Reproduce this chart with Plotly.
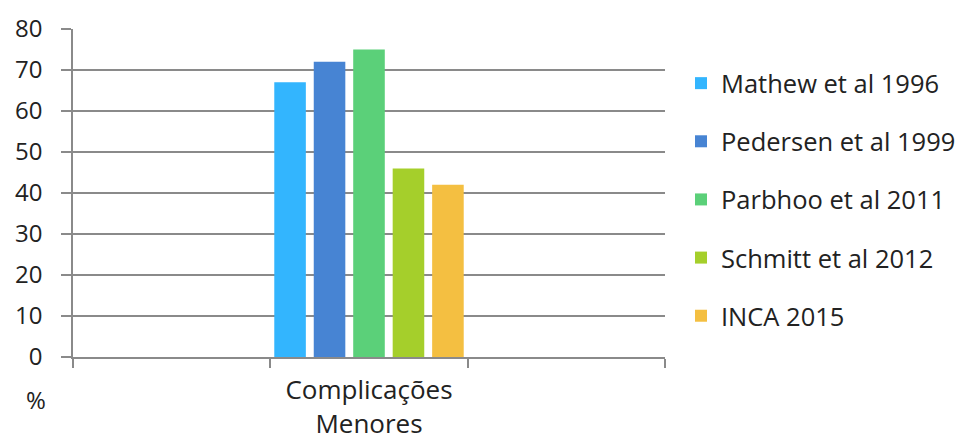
import plotly.graph_objects as go

# Category slots on the x axis (only the middle one holds data)
categories = [" ", "Complicações<br>Menores", "  "]
series_names = [
    "Mathew et al 1996",
    "Pedersen et al 1999",
    "Parbhoo et al 2011",
    "Schmitt et al 2012",
    "INCA 2015",
]
series_values = [67, 72, 75, 46, 42]
series_colors = ["#33b5fe", "#4784d3", "#5bd079", "#a5cf2b", "#f4bf41"]
y_ticks = [0, 10, 20, 30, 40, 50, 60, 70, 80]

FONT = "Open Sans"
GRID = "#8a8a8a"
TXT = "#222222"

fig = go.Figure()
for i, (name, val, col) in enumerate(zip(series_names, series_values, series_colors)):
    fig.add_trace(go.Bar(
        x=[categories[1]],
        y=[val],
        name=name,
        marker=dict(color=col, line=dict(width=0)),
        legendgroup=f"g{i}",
        hoverinfo="name+y",
    ))

fig.update_layout(
    width=974,
    height=443,
    margin=dict(l=73, r=309, t=29, b=86, autoexpand=False),
    paper_bgcolor="white",
    plot_bgcolor="white",
    barmode="group",
    bargap=0.0,
    bargroupgap=0.2,
    font=dict(family=FONT, size=22, color=TXT),
    showlegend=True,
    legend=dict(
        x=1.027, xanchor="left",
        y=0.48, yanchor="middle",
        font=dict(family=FONT, size=25.5, color=TXT),
        tracegroupgap=22,
        itemwidth=30,
        bgcolor="rgba(0,0,0,0)",
    ),
    xaxis=dict(
        type="category",
        categoryorder="array",
        categoryarray=categories,
        range=[-0.5, 2.5],
        tickson="boundaries",
        ticks="outside",
        ticklen=9,
        tickcolor=GRID,
        tickwidth=1.5,
        ticklabelstandoff=9,
        showgrid=False,
        showline=True,
        linecolor=GRID,
        linewidth=1.5,
        automargin=False,
        tickfont=dict(family=FONT, size=26, color=TXT),
        fixedrange=True,
    ),
    yaxis=dict(
        range=[0, 80],
        tickvals=y_ticks,
        ticks="outside",
        ticklen=10,
        tickcolor=GRID,
        tickwidth=1.5,
        ticklabelstandoff=14,
        showgrid=True,
        gridcolor=GRID,
        gridwidth=1.5,
        showline=True,
        linecolor=GRID,
        linewidth=1.5,
        zeroline=False,
        automargin=False,
        tickfont=dict(family=FONT, size=24, color=TXT),
        fixedrange=True,
    ),
    annotations=[dict(
        text="%",
        xref="paper", yref="paper",
        x=-0.063, y=-0.13,
        xanchor="center", yanchor="middle",
        showarrow=False,
        font=dict(family=FONT, size=24, color=TXT),
    )],
)

fig.write_html("out.html")
